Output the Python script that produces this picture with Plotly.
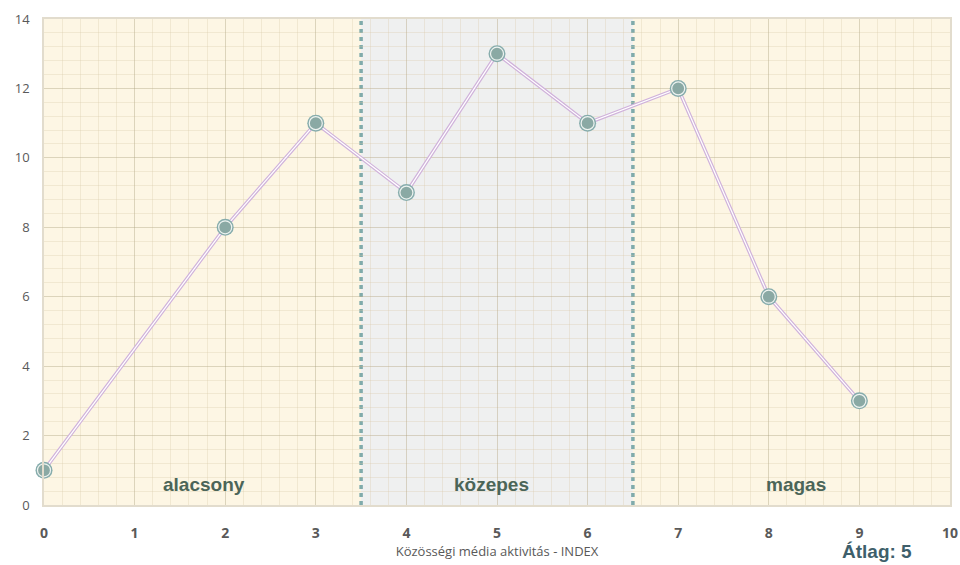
import plotly.graph_objects as go

x_vals = [0, 2, 3, 4, 5, 6, 7, 8, 9]
y_vals = [1, 8, 11, 9, 13, 11, 12, 6, 3]
x_ticks = list(range(0, 11))
y_ticks = list(range(0, 15, 2))
zones = [(0, 3.5, "alacsony", 1.77), (3.5, 6.5, "közepes", 4.94), (6.5, 10, "magas", 8.3)]
zone_colors = ["#fdf6e4", "#eff0f0", "#fdf6e4"]
avg_label = "Átlag: 5"
x_title = "Közösségi média aktivitás - INDEX"

fig = go.Figure()

shapes = []
for (x0, x1, _, _), c in zip(zones, zone_colors):
    shapes.append(dict(type="rect", xref="x", yref="y", x0=x0, x1=x1, y0=0, y1=14,
                       fillcolor=c, line=dict(width=0), layer="below"))
for xb in [3.5, 6.5]:
    shapes.append(dict(type="line", xref="x", yref="y", x0=xb, x1=xb, y0=0, y1=14,
                       line=dict(color="#80abab", width=3.5, dash="4px,4px"), layer="below"))

# double line
fig.add_trace(go.Scatter(x=x_vals, y=y_vals, mode="lines",
                         line=dict(color="#d0b2db", width=3.6), hoverinfo="skip", cliponaxis=False))
fig.add_trace(go.Scatter(x=x_vals, y=y_vals, mode="lines",
                         line=dict(color="#ffffff", width=1.2), hoverinfo="skip", cliponaxis=False))
# markers
fig.add_trace(go.Scatter(x=x_vals, y=y_vals, mode="markers",
                         marker=dict(size=17, color="#86acac", line=dict(width=0)),
                         hoverinfo="skip", cliponaxis=False))
fig.add_trace(go.Scatter(x=x_vals, y=y_vals, mode="markers",
                         marker=dict(size=13, color="#8aa9a4", line=dict(width=1.2, color="#eef3f0")),
                         cliponaxis=False))

annotations = []
for (_, _, lab, lx) in zones:
    annotations.append(dict(x=lx, y=0.58, xref="x", yref="y", text="<b>" + lab + "</b>",
                            showarrow=False, font=dict(family="Liberation Sans", size=19, color="#4b6558")))
annotations.append(dict(x=(877 - 44) / 906, y=-(551 - 505) / 486, xref="paper", yref="paper",
                        text="<b>" + avg_label + "</b>", showarrow=False,
                        xanchor="center", yanchor="middle",
                        font=dict(family="Liberation Sans", size=19, color="#3e5f6b")))

fig.update_layout(
    width=960, height=565,
    margin=dict(l=44, r=10, t=19, b=60, autoexpand=False),
    paper_bgcolor="white", plot_bgcolor="white",
    showlegend=False, shapes=shapes, annotations=annotations,
    xaxis=dict(range=[0, 10], tickvals=x_ticks, ticktext=[f"<b>{t}</b>" for t in x_ticks],
               automargin=False,
               showgrid=True, gridcolor="rgba(160,150,125,0.25)", gridwidth=1,
               minor=dict(dtick=0.2, showgrid=True, gridcolor="rgba(215,200,165,0.30)", gridwidth=1),
               zeroline=False, showline=True, linecolor="#e2dccd", linewidth=1.5, mirror=True,
               tickfont=dict(family="Open Sans", size=14, color="#595959"),
               ticks="outside", ticklen=14, tickcolor="rgba(0,0,0,0)",
               title=dict(text=x_title, font=dict(family="Open Sans", size=13, color="#595959"), standoff=6)),
    yaxis=dict(range=[0, 14], tickvals=y_ticks, showgrid=True, automargin=False,
               gridcolor="rgba(160,150,125,0.25)", gridwidth=1,
               minor=dict(dtick=0.4, showgrid=True, gridcolor="rgba(215,200,165,0.30)", gridwidth=1),
               zeroline=False, showline=True, linecolor="#e2dccd", linewidth=1.5, mirror=True,
               tickfont=dict(family="Open Sans", size=13, color="#595959"),
               ticks="outside", ticklen=10, tickcolor="rgba(0,0,0,0)"),
)

fig.write_html("out.html")
